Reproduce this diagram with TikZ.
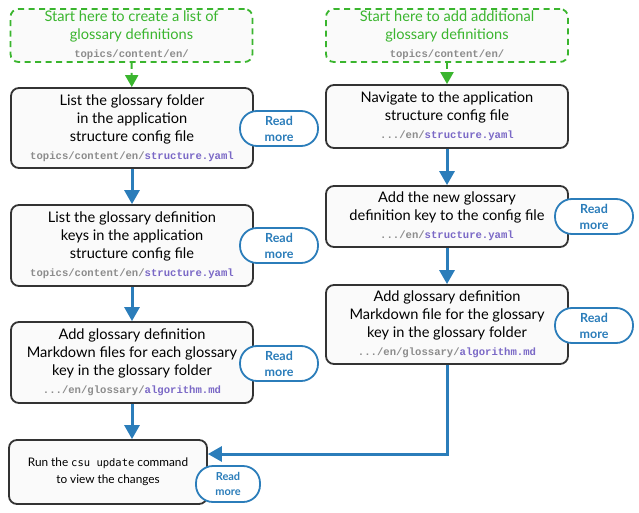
\documentclass[tikz,border=0pt]{standalone}
\usepackage{fontspec}
\setmainfont{Lato}
\newfontfamily\codefont{Liberation Mono}
\newfontfamily\cmdfont{DejaVu Sans Mono}
\usetikzlibrary{positioning,arrows.meta,calc}

\definecolor{startgreen}{HTML}{3AB52E}
\definecolor{flowblue}{HTML}{2B7DBA}
\definecolor{boxline}{HTML}{333333}
\definecolor{boxfill}{HTML}{FAFAFA}
\definecolor{pathgray}{HTML}{8C8C8C}
\definecolor{filepurple}{HTML}{7A68C6}

\newcommand{\pth}[1]{{\codefont\bfseries\fontsize{10.6}{14}\selectfont\color{pathgray}#1}}
\newcommand{\fil}[1]{{\codefont\bfseries\fontsize{10.6}{14}\selectfont\color{filepurple}#1}}
\newcommand{\cmd}[1]{{\cmdfont\fontsize{10.5}{17}\selectfont #1}}

\tikzset{
  stepbox/.style={draw=boxline, line width=1.8pt, fill=boxfill, rounded corners=8pt,
    align=center, font=\fontsize{14.6}{18}\selectfont, inner sep=0pt},
  startbox/.style={draw=startgreen, line width=1.8pt, dash pattern=on 6pt off 4.5pt,
    fill=boxfill, rounded corners=8pt, align=center, text=startgreen,
    font=\fontsize{14.6}{18}\selectfont, inner sep=0pt,
    minimum width=242pt, minimum height=53pt},
  readmore/.style={draw=flowblue, line width=1.8pt, fill=white, rounded corners=17pt,
    align=center, text=flowblue, font=\bfseries\fontsize{12.5}{16}\selectfont,
    minimum width=78pt, minimum height=35pt, inner sep=0pt},
  flow/.style={draw=flowblue, line width=3pt, -{Triangle[width=15pt,length=14pt]}},
  startflow/.style={draw=startgreen, line width=2pt, dash pattern=on 6pt off 4pt,
    -{Triangle[width=13pt,length=12pt]}}
}

\begin{document}
\begin{tikzpicture}[x=1pt,y=-1pt]
  \useasboundingbox (0,0) rectangle (639,513);

  % left column
  \node[startbox] (startL) at (131.5,35.5) {Start here to create a list of\\glossary definitions\\\pth{topics/content/en/}};
  \node[stepbox, minimum width=242pt, minimum height=80pt] (listfolder) at (132,128)
    {List the glossary folder\\in the application\\structure config file\\\pth{topics/content/en/}\fil{structure.yaml}};
  \node[stepbox, minimum width=242pt, minimum height=81pt] (listkeys) at (132,245.5)
    {List the glossary definition\\keys in the application\\structure config file\\\pth{topics/content/en/}\fil{structure.yaml}};
  \node[stepbox, minimum width=242pt, minimum height=81pt] (addfiles) at (132,362.5)
    {Add glossary definition\\Markdown files for each glossary\\key in the glossary folder\\\pth{.../en/glossary/}\fil{algorithm.md}};
  \node[stepbox, minimum width=198pt, minimum height=64pt, font=\fontsize{11.8}{17}\selectfont] (runupdate) at (108,472)
    {Run the \cmd{csu update} command\\to view the changes};

  % right column
  \node[startbox] (startR) at (447,35.5) {Start here to add additional\\glossary definitions\\\pth{topics/content/en/}};
  \node[stepbox, minimum width=242pt, minimum height=63pt] (navigate) at (447,116.5)
    {Navigate to the application\\structure config file\\\pth{.../en/}\fil{structure.yaml}};
  \node[stepbox, minimum width=242pt, minimum height=61pt] (addkey) at (447,216.5)
    {Add the new glossary\\definition key to the config file\\\pth{.../en/}\fil{structure.yaml}};
  \node[stepbox, minimum width=242pt, minimum height=79pt] (addfile) at (447,324.5)
    {Add glossary definition\\Markdown file for the glossary\\key in the glossary folder\\\pth{.../en/glossary/}\fil{algorithm.md}};

  % read more pills
  \node[readmore] (moreA) at (279,128.5) {Read\\more};
  \node[readmore] (moreB) at (279,245.5) {Read\\more};
  \node[readmore] (moreC) at (279,363.5) {Read\\more};
  \node[readmore, minimum width=64pt, minimum height=36pt, font=\bfseries\fontsize{11}{15}\selectfont] (moreD) at (228,484) {Read\\more};
  \node[readmore] (moreE) at (594,216.5) {Read\\more};
  \node[readmore] (moreF) at (594,325.5) {Read\\more};

  % connectors
  \draw[startflow] (startL) -- (listfolder);
  \draw[startflow] (startR) -- (navigate);
  \draw[flow] (listfolder) -- (listkeys);
  \draw[flow] (listkeys) -- (addfiles);
  \draw[flow] (addfiles) -- (runupdate.north -| addfiles.south);
  \draw[flow] (navigate) -- (addkey);
  \draw[flow] (addkey) -- (addfile);
  \draw[flow, rounded corners=0pt] (addfile.south) |- ([yshift=18pt]runupdate.east);
\end{tikzpicture}
\end{document}
